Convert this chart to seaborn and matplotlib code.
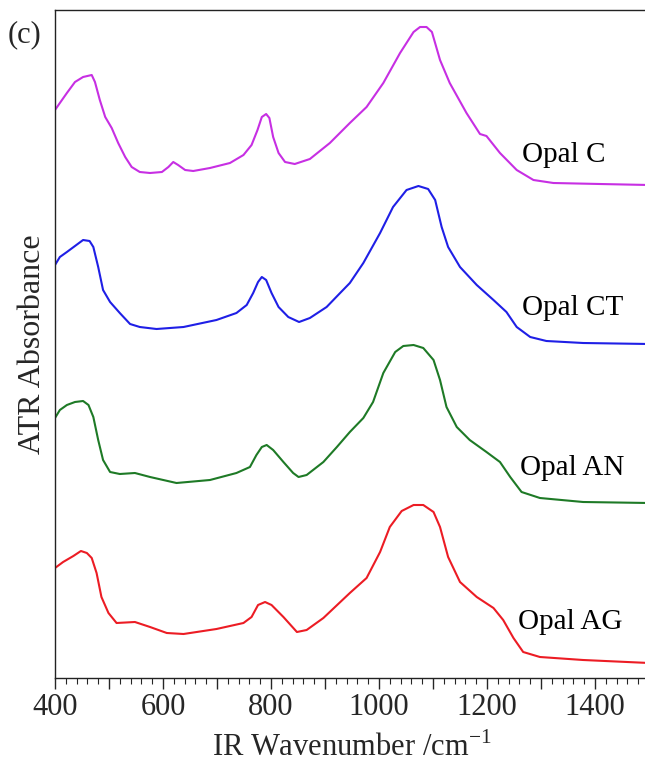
import numpy as np
import pandas as pd
import matplotlib
matplotlib.use("Agg")
import matplotlib.pyplot as plt
from matplotlib.ticker import MultipleLocator, FuncFormatter
import seaborn as sns

# spectra (already stacked with their vertical offsets)
wn_c = [400, 409, 422, 437, 452, 468, 474, 483, 493, 505, 517, 530, 542, 557, 576, 598,
        610, 619, 628, 641, 656, 687, 724, 749, 764, 775, 783, 791, 797, 804, 814, 826,
        844, 872, 909, 946, 977, 1008, 1039, 1064, 1076, 1088, 1098, 1113, 1131, 1162,
        1187, 1199, 1224, 1255, 1286, 1323, 1409, 1500]
ab_c = [5.70, 5.77, 5.87, 5.98, 6.03, 6.05, 5.98, 5.80, 5.63, 5.52, 5.37, 5.23, 5.13,
        5.08, 5.07, 5.08, 5.13, 5.18, 5.15, 5.10, 5.09, 5.12, 5.17, 5.25, 5.35, 5.50,
        5.63, 5.66, 5.62, 5.43, 5.27, 5.18, 5.16, 5.21, 5.37, 5.57, 5.73, 5.97, 6.27,
        6.48, 6.53, 6.53, 6.48, 6.20, 5.97, 5.67, 5.46, 5.44, 5.27, 5.10, 5.00, 4.97,
        4.96, 4.95]

wn_ct = [400, 409, 422, 437, 452, 464, 471, 480, 489, 502, 520, 539, 557, 588, 638, 699,
         736, 755, 767, 776, 783, 791, 801, 814, 832, 852, 872, 903, 928, 946, 971,
         1002, 1026, 1051, 1073, 1091, 1104, 1116, 1128, 1150, 1181, 1212, 1236, 1255,
         1280, 1310, 1378, 1500]
ab_ct = [4.15, 4.23, 4.28, 4.34, 4.40, 4.39, 4.33, 4.13, 3.90, 3.78, 3.67, 3.56, 3.53,
         3.51, 3.53, 3.60, 3.67, 3.75, 3.87, 3.98, 4.03, 4.00, 3.87, 3.73, 3.63, 3.58,
         3.62, 3.73, 3.87, 3.97, 4.17, 4.47, 4.73, 4.90, 4.94, 4.91, 4.80, 4.53, 4.33,
         4.13, 3.95, 3.80, 3.68, 3.53, 3.43, 3.39, 3.37, 3.36]

wn_an = [400, 409, 422, 437, 452, 462, 471, 480, 489, 502, 520, 548, 576, 625, 687, 736,
         761, 773, 783, 792, 804, 823, 841, 851, 866, 897, 922, 946, 971, 989, 1008,
         1030, 1045, 1064, 1082, 1101, 1113, 1125, 1144, 1168, 1199, 1224, 1243, 1264,
         1298, 1378, 1500]
ab_an = [2.62, 2.70, 2.75, 2.78, 2.79, 2.75, 2.63, 2.40, 2.20, 2.08, 2.06, 2.07, 2.03,
         1.97, 2.00, 2.07, 2.13, 2.25, 2.33, 2.35, 2.30, 2.18, 2.07, 2.03, 2.05, 2.18,
         2.33, 2.48, 2.62, 2.78, 3.07, 3.28, 3.34, 3.35, 3.32, 3.20, 3.00, 2.73, 2.53,
         2.40, 2.28, 2.18, 2.03, 1.88, 1.82, 1.78, 1.77]

wn_ag = [400, 415, 434, 448, 459, 468, 477, 486, 499, 514, 548, 576, 607, 638, 699, 749,
         764, 776, 789, 801, 823, 848, 866, 897, 946, 977, 1002, 1020, 1042, 1064, 1082,
         1101, 1113, 1128, 1150, 1181, 1212, 1230, 1249, 1267, 1298, 1378, 1500]
ab_ag = [1.12, 1.18, 1.24, 1.29, 1.27, 1.22, 1.07, 0.83, 0.67, 0.57, 0.58, 0.53, 0.47,
         0.46, 0.51, 0.57, 0.63, 0.75, 0.78, 0.75, 0.63, 0.48, 0.50, 0.62, 0.87, 1.02,
         1.28, 1.53, 1.69, 1.75, 1.75, 1.68, 1.53, 1.23, 0.98, 0.83, 0.72, 0.60, 0.42,
         0.28, 0.23, 0.20, 0.17]

names = ["Opal C", "Opal CT", "Opal AN", "Opal AG"]
colors = ["#c72fe3", "#1f1fe6", "#1e7a26", "#ec1c24"]
label_pos = [(1265, 5.25), (1265, 3.72), (1261, 2.12), (1257, 0.58)]

frames = []
for name, wn, ab in zip(names, [wn_c, wn_ct, wn_an, wn_ag], [ab_c, ab_ct, ab_an, ab_ag]):
    frames.append(pd.DataFrame({"wn": wn, "ab": ab, "sample": name}))
df = pd.concat(frames, ignore_index=True)

sns.set_style("ticks")
plt.rcParams["font.family"] = ["Liberation Serif", "DejaVu Serif"]
plt.rcParams["mathtext.fontset"] = "custom"
plt.rcParams["mathtext.rm"] = "Liberation Serif"

fig = plt.figure(figsize=(6.45, 7.65), dpi=100)
ax = fig.add_axes([55 / 645, 1 - 678 / 765, 594 / 645, 668 / 765])

sns.lineplot(data=df, x="wn", y="ab", hue="sample", palette=colors,
             hue_order=names, sort=False, legend=False, linewidth=1.5, ax=ax)

for name, (x, y) in zip(names, label_pos):
    ax.text(x, y, name, fontsize=21, va="center", ha="left", color="black")

ax.set_xlim(400, 1500)
ax.set_ylim(0.02, 6.70)
ax.set_yticks([])
ax.xaxis.set_major_locator(MultipleLocator(100))
ax.xaxis.set_minor_locator(MultipleLocator(20))
ax.xaxis.set_major_formatter(FuncFormatter(lambda v, p: f"{int(v)}" if int(v) % 200 == 0 else ""))
ax.tick_params(axis="x", which="major", direction="out", length=8, width=1, labelsize=22, pad=3)
ax.tick_params(axis="x", which="minor", direction="out", length=4, width=0.8)
for s in ax.spines.values():
    s.set_linewidth(1.0)
    s.set_color("#222222")

ax.set_xlabel("IR Wavenumber /cm$^{\\mathrm{-1}}$", fontsize=22, labelpad=7)
ax.set_ylabel("ATR Absorbance", fontsize=23, labelpad=6)
fig.text(8 / 645, 1 - 35 / 765, "(c)", fontsize=22, va="center", ha="left")

fig.savefig("out.png", dpi=100)
